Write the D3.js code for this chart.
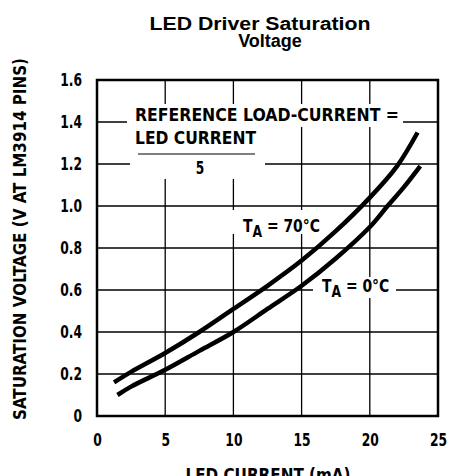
<!DOCTYPE html>
<html>
<head>
<meta charset="utf-8">
<script src="https://cdn.jsdelivr.net/npm/d3@7"></script>
<style>
  html, body { margin: 0; padding: 0; background: #fff; }
  svg { display: block; }
  .narrow { font-family: "Liberation Sans Narrow", "DejaVu Sans Condensed", "Liberation Sans", sans-serif; font-weight: bold; font-stretch: condensed; }
</style>
</head>
<body>
<svg id="chart" width="458" height="476"></svg>
<script>
// ---- data ----
const xTickValues = [0, 5, 10, 15, 20, 25];
const xTickLabels = ["0", "5", "10", "15", "20", "25"];
const yTickValues = [0, 0.2, 0.4, 0.6, 0.8, 1.0, 1.2, 1.4, 1.6];
const yTickLabels = ["0", "0.2", "0.4", "0.6", "0.8", "1.0", "1.2", "1.4", "1.6"];

// T_A = 70°C  (LED current mA, saturation voltage V)
const current70 = [1.25, 2.5, 5, 7.5, 10, 12.5, 15, 17.5, 20, 22, 23.5];
const voltage70 = [0.16, 0.21, 0.30, 0.40, 0.51, 0.62, 0.74, 0.88, 1.04, 1.19, 1.35];
// T_A = 0°C
const current0 = [1.5, 2.5, 5, 7.5, 10, 12.5, 15, 17.5, 20, 21.3, 22.5, 23.7];
const voltage0 = [0.10, 0.14, 0.22, 0.31, 0.40, 0.51, 0.62, 0.75, 0.90, 1.00, 1.09, 1.19];

const titleLines = ["LED Driver Saturation", "Voltage"];
const xTitle = "LED CURRENT (mA)";
const yTitle = "SATURATION VOLTAGE (V AT LM3914 PINS)";

// ---- layout ----
const svg = d3.select("#chart");
const L = 97, R = 438, T = 80, B = 416;
const x = d3.scaleLinear().domain([0, 25]).range([L, R]);
const y = d3.scaleLinear().domain([0, 1.6]).range([B, T]);

// title
svg.append("text").attr("x", 260).attr("y", 30).attr("text-anchor", "middle")
  .style("font-family", "'Liberation Sans', Arial, sans-serif").style("font-weight", "bold")
  .style("font-size", "18px").attr("textLength", 221).attr("lengthAdjust", "spacingAndGlyphs")
  .text(titleLines[0]);
svg.append("text").attr("x", 270).attr("y", 47).attr("text-anchor", "middle")
  .style("font-family", "'Liberation Sans', Arial, sans-serif").style("font-weight", "bold")
  .style("font-size", "18px")
  .text(titleLines[1]);

// gridlines
const grid = svg.append("g").attr("stroke", "#000").attr("stroke-width", 1.3);
yTickValues.filter(v => v > 0 && v < 1.6).forEach(v => {
  grid.append("line").attr("x1", L).attr("x2", R).attr("y1", y(v)).attr("y2", y(v));
});
xTickValues.filter(v => v > 0 && v < 25).forEach(v => {
  grid.append("line").attr("x1", x(v)).attr("x2", x(v)).attr("y1", T).attr("y2", B);
});

// white masks behind annotations
const masks = [
  [127, 104, 276, 23],
  [130, 127, 135, 52],
  [232, 210, 95, 24],
  [313, 277, 83, 21]
];
masks.forEach(m => svg.append("rect").attr("x", m[0]).attr("y", m[1])
  .attr("width", m[2]).attr("height", m[3]).attr("fill", "#fff"));

// curves
const line = d3.line().x(d => x(d[0])).y(d => y(d[1])).curve(d3.curveCatmullRom.alpha(0.5));
const d70 = current70.map((c, i) => [c, voltage70[i]]);
const d0 = current0.map((c, i) => [c, voltage0[i]]);
[d70, d0].forEach(d => svg.append("path").datum(d).attr("d", line)
  .attr("fill", "none").attr("stroke", "#000").attr("stroke-width", 4.5));

// frame
svg.append("rect").attr("x", L).attr("y", T).attr("width", R - L).attr("height", B - T)
  .attr("fill", "none").attr("stroke", "#000").attr("stroke-width", 2.5);

// axes labels via d3 axes
const yAxis = d3.axisLeft(y).tickValues(yTickValues)
  .tickFormat((d, i) => yTickLabels[i]).tickSize(0).tickPadding(0);
const gy = svg.append("g").attr("transform", `translate(${82},0)`).call(yAxis);
gy.select(".domain").remove();
gy.selectAll("text").attr("class", "narrow").style("font-size", "18px").attr("fill", "#000")
  .attr("transform", "scale(0.76,1)");

const xAxis = d3.axisBottom(x).tickValues(xTickValues)
  .tickFormat((d, i) => xTickLabels[i]).tickSize(0).tickPadding(0);
const gx = svg.append("g").attr("transform", `translate(0,${433})`).call(xAxis);
gx.select(".domain").remove();
gx.selectAll("text").attr("class", "narrow").style("font-size", "18px").attr("fill", "#000")
  .attr("transform", "scale(0.76,1)");

// axis titles
svg.append("text").attr("class", "narrow").attr("x", 268).attr("y", 481)
  .attr("text-anchor", "middle").style("font-size", "17px")
  .attr("textLength", 165).attr("lengthAdjust", "spacingAndGlyphs").text(xTitle);
svg.append("text").attr("class", "narrow")
  .attr("transform", "translate(26,239) rotate(-90)")
  .attr("text-anchor", "middle").style("font-size", "17px")
  .attr("textLength", 362).attr("lengthAdjust", "spacingAndGlyphs").text(yTitle);

// annotation: reference load current
svg.append("text").attr("class", "narrow").attr("x", 135).attr("y", 121)
  .style("font-size", "17px").attr("textLength", 264).attr("lengthAdjust", "spacingAndGlyphs")
  .text("REFERENCE LOAD-CURRENT =");
svg.append("text").attr("class", "narrow").attr("x", 135).attr("y", 144)
  .style("font-size", "17px").attr("textLength", 121).attr("lengthAdjust", "spacingAndGlyphs")
  .text("LED CURRENT");
svg.append("line").attr("x1", 138).attr("x2", 255).attr("y1", 154).attr("y2", 154)
  .attr("stroke", "#000").attr("stroke-width", 1.2);
svg.append("text").attr("class", "narrow").attr("x", 200).attr("y", 174)
  .attr("text-anchor", "middle").style("font-size", "17px")
  .attr("transform", "translate(40,0) scale(0.8,1)").text("5");

// temperature labels
function tempLabel(xp, yp, temp) {
  const g = svg.append("g").attr("transform", `translate(${xp},${yp}) scale(0.86,1)`);
  const t = g.append("text").attr("class", "narrow").attr("x", 0).attr("y", 0)
    .style("font-size", "18px");
  t.append("tspan").text("T");
  t.append("tspan").attr("dy", 5).style("font-size", "16px").text("A");
  t.append("tspan").attr("dy", -5).text(" = " + temp + "\u00B0C");
}
tempLabel(243, 232, "70");
tempLabel(322, 292, "0");
</script>
</body>
</html>
